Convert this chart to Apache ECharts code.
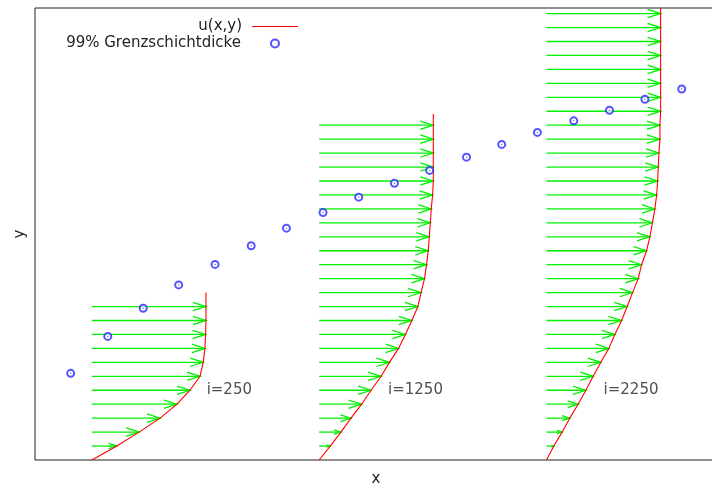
<!DOCTYPE html>
<html>
<head>
<meta charset="utf-8">
<title>Grenzschicht</title>
<script src="https://cdn.jsdelivr.net/npm/echarts@6/dist/echarts.min.js"></script>
<style>
  html, body { margin: 0; padding: 0; background: #fff; }
  #chart { width: 712px; height: 488px; }
</style>
</head>
<body>
<div id="chart"></div>
<script>
// Stationen (Index i) der Geschwindigkeitsprofile
const stationI = [250, 1250, 2250]
// u/U an den Gitterpunkten j = 1, 2, ... (von der Wand aus)
const u250 = [0.219, 0.414, 0.598, 0.746, 0.860, 0.948, 0.976, 0.991, 0.997, 1.0, 1.0]
const u1250 = [0.097, 0.191, 0.279, 0.372, 0.455, 0.543, 0.616, 0.695, 0.756, 0.812, 0.865, 0.893,
  0.923, 0.941, 0.956, 0.965, 0.974, 0.982, 0.994, 1.0, 1.0, 1.0, 1.0, 1.0]
const u2250 = [0.064, 0.137, 0.204, 0.277, 0.345, 0.409, 0.476, 0.546, 0.599, 0.658, 0.707, 0.754,
  0.804, 0.833, 0.877, 0.906, 0.928, 0.950, 0.965, 0.974, 0.979, 0.985, 0.994, 0.994,
  1.0, 1.0, 1.0, 1.0, 1.0, 1.0, 1.0, 1.0]
// obere Enden der roten Profilkurven (in j)
const profileTop = [12.0, 24.8, 33.0]
// 99% Grenzschichtdicke
const deltaI = [157, 320, 476, 632, 792, 951, 1106, 1267, 1424, 1581, 1736, 1898, 2053, 2210, 2370, 2527, 2683, 2845]
const deltaY = [6.21, 8.86, 10.88, 12.55, 14.02, 15.36, 16.62, 17.74, 18.84, 19.84, 20.76, 21.71,
  22.62, 23.48, 24.31, 25.07, 25.86, 26.59]
// Beschriftungen
const labelText = ['i=250', 'i=1250', 'i=2250']
const labelI = [755, 1553, 2501]
const labelY = [5, 5, 5]

const U_SCALE = 502   // Pfeillaenge fuer u/U = 1 in x-Einheiten
const profiles = [u250, u1250, u2250]

const font = 'DejaVu Sans, sans-serif'
const textColor = '#222'

// Pfeile: [i, j, u]
const arrowData = []
profiles.forEach((prof, k) => {
  prof.forEach((u, j) => arrowData.push([stationI[k], j + 1, u]))
})

// rote Kurven u(x,y)
const curveSeries = profiles.map((prof, k) => {
  const x0 = stationI[k]
  const pts = [[x0, 0]]
  prof.forEach((u, j) => pts.push([x0 + U_SCALE * u, j + 1]))
  pts.push([x0 + U_SCALE, profileTop[k]])
  return {
    name: 'u(x,y)',
    type: 'line',
    data: pts,
    symbol: 'none',
    lineStyle: { color: '#ff0000', width: 1.1 },
    itemStyle: { color: '#ff0000' },
    z: 3,
    clip: true
  }
})

function renderArrow(params, api) {
  const x0 = api.value(0)
  const y = api.value(1)
  const u = api.value(2)
  const p0 = api.coord([x0, y])
  const p1 = api.coord([x0 + U_SCALE * u, y])
  const yy = p0[1]
  const len = p1[0] - p0[0]
  const head = Math.min(13, len * 0.33)
  const hw = head * 0.32
  const style = { stroke: '#00f000', lineWidth: 1.3, fill: null }
  return {
    type: 'group',
    children: [
      { type: 'polyline', shape: { points: [[p0[0], yy], [p1[0], yy]] }, style: style },
      { type: 'polyline', shape: { points: [[p1[0] - head, yy - hw], [p1[0], yy], [p1[0] - head, yy + hw]] }, style: style }
    ]
  }
}

const chart = echarts.init(document.getElementById('chart'))

const option = {
  animation: false,
  backgroundColor: '#fff',
  grid: {
    left: 35,
    right: -5,
    top: 8,
    bottom: 28,
    outerBoundsMode: 'none',
    show: true,
    borderColor: '#222',
    borderWidth: 1,
    backgroundColor: 'transparent'
  },
  legend: [
    {
      data: [{
        name: 'u(x,y)',
        icon: 'path://M0,0H46V1.2H0Z',
        itemStyle: { color: '#ff0000', borderWidth: 0 }
      }],
      align: 'right',
      orient: 'vertical',
      right: 414,
      top: 19,
      padding: 0,
      itemWidth: 46,
      itemHeight: 14,
      selectedMode: false,
      textStyle: { fontFamily: font, fontSize: 15, color: textColor, padding: [0, 5, 0, 0] }
    },
    {
      data: ['99% Grenzschichtdicke'],
      align: 'right',
      orient: 'vertical',
      right: 432,
      top: 36,
      padding: 0,
      itemWidth: 8,
      itemHeight: 8,
      selectedMode: false,
      textStyle: { fontFamily: font, fontSize: 15, color: textColor, padding: [0, 25, 0, 0] }
    }
  ],
  xAxis: {
    type: 'value',
    min: 0,
    max: 3000,
    name: 'x',
    nameLocation: 'middle',
    nameGap: 12,
    nameTextStyle: { fontFamily: font, fontSize: 15, color: textColor },
    axisLine: { show: false },
    axisTick: { show: false },
    axisLabel: { show: false },
    splitLine: { show: false }
  },
  yAxis: {
    type: 'value',
    min: 0,
    max: 32.4,
    name: 'y',
    nameLocation: 'middle',
    nameGap: 7,
    nameTextStyle: { fontFamily: font, fontSize: 15, color: textColor },
    axisLine: { show: false },
    axisTick: { show: false },
    axisLabel: { show: false },
    splitLine: { show: false }
  },
  series: [
    {
      name: 'arrows',
      type: 'custom',
      renderItem: renderArrow,
      data: arrowData,
      silent: true,
      z: 2
    },
    ...curveSeries,
    {
      name: '99% Grenzschichtdicke',
      type: 'scatter',
      data: deltaI.map((x, k) => [x, deltaY[k]]),
      symbol: 'emptyCircle',
      symbolSize: 7,
      itemStyle: { color: '#2a2aff', borderColor: '#2a2aff', borderWidth: 1.3 },
      z: 5
    },
    {
      name: 'dots',
      type: 'scatter',
      data: deltaI.map((x, k) => [x, deltaY[k]]),
      symbol: 'circle',
      symbolSize: 1.5,
      itemStyle: { color: '#4a4aff' },
      silent: true,
      z: 6
    },
    {
      name: 'labels',
      type: 'scatter',
      data: labelText.map((t, k) => ({ name: t, value: [labelI[k], labelY[k]] })),
      symbolSize: 0,
      itemStyle: { color: 'transparent' },
      silent: true,
      label: {
        show: true,
        position: [0, 0],
        align: 'left',
        verticalAlign: 'middle',
        formatter: (p) => p.name,
        fontFamily: font,
        fontSize: 15,
        color: textColor
      },
      z: 7
    }
  ]
}

chart.setOption(option)
</script>
</body>
</html>
